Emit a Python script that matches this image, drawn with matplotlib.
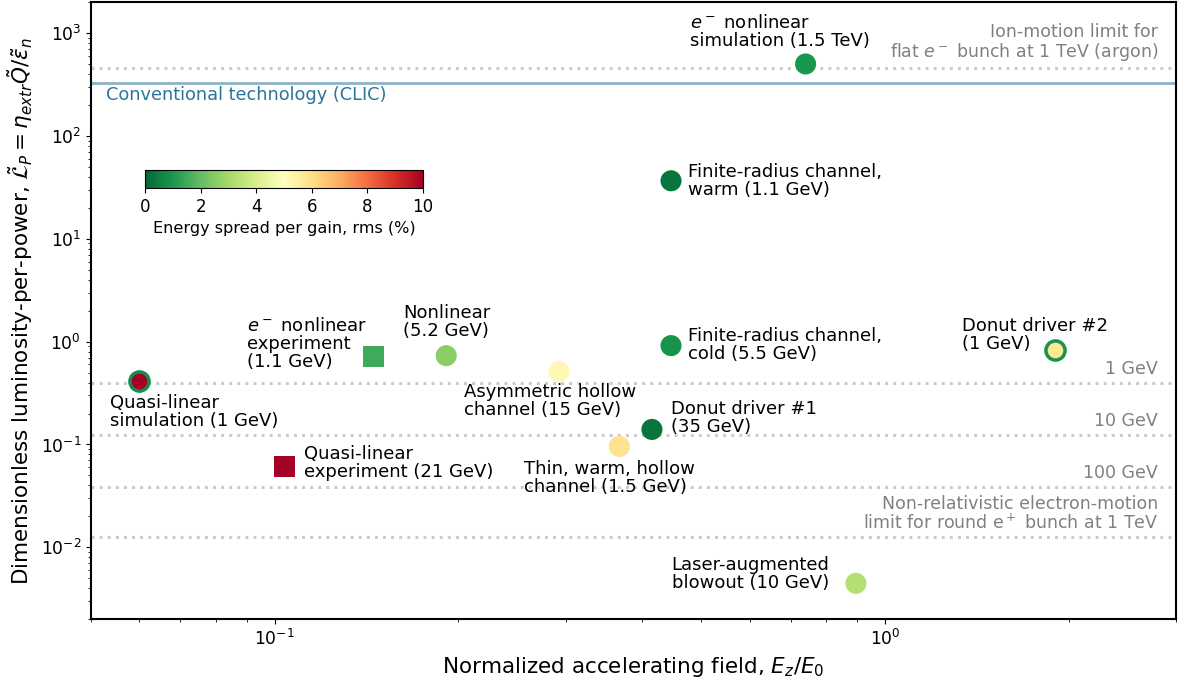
import numpy as np
import matplotlib.pyplot as plt
import matplotlib.colors as mcolors

# data points
labels = [
    "Quasi-linear\nsimulation (1 GeV)",
    "Quasi-linear\nexperiment (21 GeV)",
    "$e^-$ nonlinear\nexperiment\n(1.1 GeV)",
    "Nonlinear\n(5.2 GeV)",
    "Asymmetric hollow\nchannel (15 GeV)",
    "Thin, warm, hollow\nchannel (1.5 GeV)",
    "Donut driver #1\n(35 GeV)",
    "Finite-radius channel,\ncold (5.5 GeV)",
    "Finite-radius channel,\nwarm (1.1 GeV)",
    "$e^-$ nonlinear\nsimulation (1.5 TeV)",
    "Donut driver #2\n(1 GeV)",
    "Laser-augmented\nblowout (10 GeV)",
]
field = [0.060, 0.1038, 0.145, 0.191, 0.292, 0.367, 0.415, 0.446, 0.446, 0.741, 1.90, 0.896]
lumi = [0.418, 0.061, 0.715, 0.73, 0.51, 0.0957, 0.14, 0.914, 36.6, 500, 0.836, 0.00447]
spread = [10.0, 10.0, 1.5, 2.6, 5.2, 5.9, 0.3, 0.9, 0.3, 1.0, 5.8, 3.3]
markers = ["o", "s", "s", "o", "o", "o", "o", "o", "o", "o", "o", "o"]
edge_spread = [0.8, None, None, None, None, None, None, None, None, None, 0.9, None]

# label placement (pixel offsets from the point, alignment)
offsets = [(-29, -31), (19, 4), (-126, 13), (-43, 34), (-95, -29), (-95, -32),
           (19, 11), (17, 1), (17, 0), (-116, 14), (-93, 15), (-27, 9)]
has = ["left", "left", "left", "left", "left", "left",
       "left", "left", "left", "left", "left", "right"]
vas = ["center", "center", "center", "center", "center", "center",
       "center", "center", "center", "bottom", "center", "center"]

# reference lines
clic = 327
limit_lines = [458, 0.40, 0.125, 0.039, 0.0125]
limit_texts = ["Ion-motion limit for\nflat $e^-$ bunch at 1 TeV (argon)",
               "1 GeV", "10 GeV", "100 GeV",
               "Non-relativistic electron-motion\nlimit for round e$^+$ bunch at 1 TeV"]

cmap = plt.get_cmap("RdYlGn_r")
norm = mcolors.Normalize(vmin=0, vmax=10)

fig = plt.figure(figsize=(11.81, 6.79), dpi=100)
ax = fig.add_axes([0.077, 0.088, 0.919, 0.909])
ax.set_xscale("log")
ax.set_yscale("log")
ax.set_xlim(0.05, 3)
ax.set_ylim(2e-3, 2e3)

for yl in limit_lines:
    ax.axhline(yl, color="#cccccc", linestyle=":", linewidth=2.2, zorder=1)
ax.axhline(clic, color="#8cb4c9", linewidth=2, zorder=1)
ax.annotate("Conventional technology (CLIC)", xy=(0.014, clic), xycoords=("axes fraction", "data"),
            xytext=(0, -3), textcoords="offset pixels", ha="left", va="top",
            color="#2b7599", fontsize=12.8)

for yl, t in zip(limit_lines, limit_texts):
    ax.annotate(t, xy=(0.983, yl), xycoords=("axes fraction", "data"),
                xytext=(0, 5), textcoords="offset pixels", ha="right", va="bottom",
                color="gray", fontsize=12.5, linespacing=1.0)

for i in range(len(field)):
    face = cmap(norm(spread[i]))
    if edge_spread[i] is not None:
        ec = cmap(norm(edge_spread[i]))
        lw = 2.5
        s = 190
    else:
        ec = "none"
        lw = 0
        s = 230
    ax.scatter(field[i], lumi[i], s=s, c=[face], marker=markers[i],
               edgecolors=[ec] if ec != "none" else "none", linewidths=lw, zorder=3)
    ax.annotate(labels[i], xy=(field[i], lumi[i]), xytext=offsets[i],
                textcoords="offset pixels", ha=has[i], va=vas[i],
                fontsize=13, linespacing=1.0, zorder=4)

ax.set_xlabel("Normalized accelerating field, $E_z/E_0$", fontsize=15.5)
ax.set_ylabel(r"Dimensionless luminosity-per-power, $\tilde{\mathcal{L}}_P = \eta_{extr}\tilde{Q}/\tilde{\varepsilon}_n$",
              fontsize=15.5)
ax.tick_params(labelsize=12.3)
for sp in ax.spines.values():
    sp.set_linewidth(1.5)

# colorbar inset
cax = fig.add_axes([0.1228, 0.7231, 0.2354, 0.0265])
sm = plt.cm.ScalarMappable(cmap=cmap, norm=norm)
cb = fig.colorbar(sm, cax=cax, orientation="horizontal")
cb.set_ticks([0, 2, 4, 6, 8, 10])
cb.ax.tick_params(labelsize=12)
cb.set_label("Energy spread per gain, rms (%)", fontsize=11.6)

fig.savefig("out.png", dpi=100)
